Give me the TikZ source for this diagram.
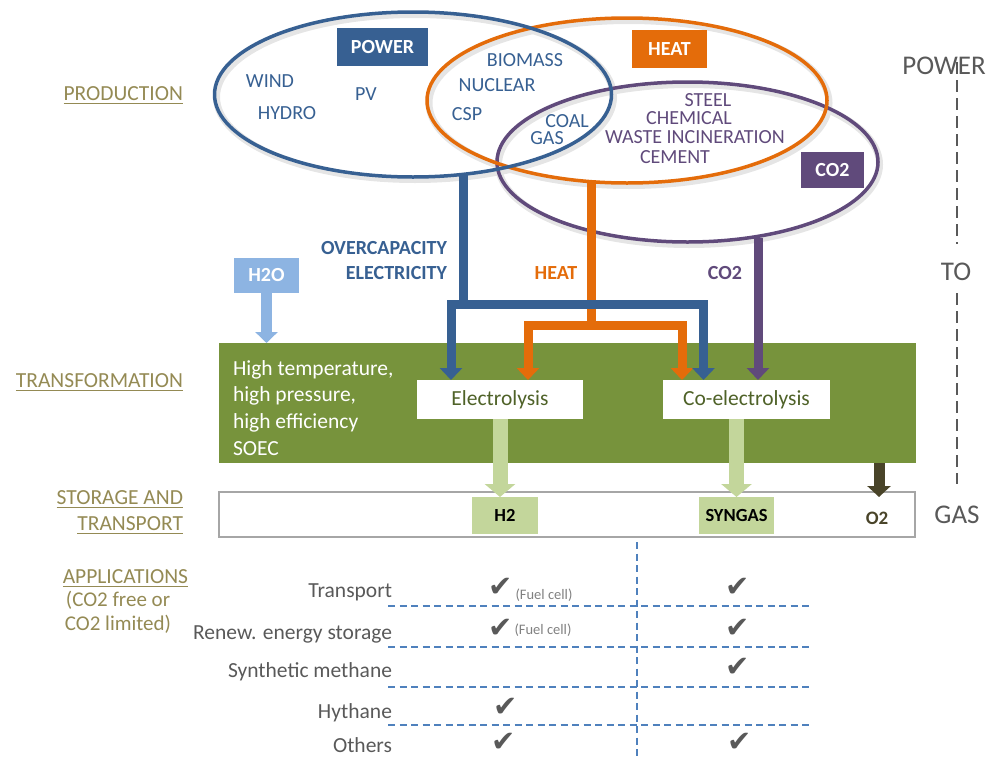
\documentclass[tikz,border=0pt]{standalone}
\usepackage{fontspec}
\setmainfont{Carlito}
\newfontfamily\symfont{DejaVu Sans}
\usetikzlibrary{arrows.meta,shapes.geometric,calc}
\definecolor{cblue}{HTML}{376092}
\definecolor{corange}{HTML}{E46C0A}
\definecolor{cpurple}{HTML}{604A7B}
\definecolor{cgreen}{HTML}{77933C}
\definecolor{clgreen}{HTML}{C3D69B}
\definecolor{cltblue}{HTML}{8DB4E2}
\definecolor{colive}{HTML}{948A54}
\definecolor{cdolive}{HTML}{494429}
\definecolor{cgray}{HTML}{595959}
\definecolor{cdgreen}{HTML}{4F6228}
\definecolor{cdash}{HTML}{4F81BD}
\tikzset{
  ell/.style={ellipse, line width=3.5pt, inner sep=0pt},
  shd/.style={ellipse, draw=black!10, line width=7pt, inner sep=0pt},
  tagbox/.style={text=white, font=\fontsize{20}{24}\selectfont\bfseries},
  etxt/.style={font=\fontsize{20}{24}\selectfont},
  ulbl/.style={text=colive, font=\fontsize{21.5}{26}\selectfont, anchor=base east},
  uline/.style={draw=colive, line width=1.3pt},
  gtxt/.style={text=white, font=\fontsize{21.5}{26}\selectfont, anchor=base west},
  procbox/.style={fill=white, text=cdgreen, font=\fontsize{21.5}{26}\selectfont},
  gasbox/.style={fill=clgreen, text=black, font=\fontsize{18.5}{22}\selectfont\bfseries},
  conlbl/.style={font=\fontsize{20}{25}\selectfont\bfseries},
  feed/.style={line width=9pt, -{Triangle[width=22pt,length=12pt]}},
  feedline/.style={line width=9pt},
  outarrow/.style={draw=clgreen, line width=15pt, -{Triangle[width=30pt,length=13pt]}},
  rlbl/.style={text=cgray, font=\fontsize{21.5}{26}\selectfont, anchor=base east},
  chk/.style={text=cgray, font=\symfont\fontsize{29}{29}\selectfont},
  fuel/.style={text=gray, font=\fontsize{14.5}{17}\selectfont},
  bdash/.style={draw=cdash, line width=1.6pt, dash pattern=on 7pt off 4.5pt},
  gdash/.style={draw=cgray, line width=1.5pt, dash pattern=on 12pt off 6pt},
  side/.style={text=cgray, font=\fontsize{27}{32}\selectfont}
}
\begin{document}
\begin{tikzpicture}[x=1pt,y=-1pt, every node/.style={inner sep=0pt,outer sep=0pt}]
\useasboundingbox (0,0) rectangle (992,758);

% soft shadows
\node[shd, minimum width=381, minimum height=160] at (689,164.5) {};
\node[shd, minimum width=400, minimum height=165] at (629,103) {};
\node[shd, minimum width=397, minimum height=165] at (415,97) {};

% ellipses
\node[ell, draw=cpurple, minimum width=381, minimum height=160] (co2E) at (687.5,162) {};
\node[ell, draw=corange, minimum width=400, minimum height=165] (heatE) at (627,100.5) {};
\node[ell, draw=cblue, minimum width=397, minimum height=165] (powE) at (413,94.5) {};

% tag boxes
\node[tagbox, fill=cblue, minimum width=91, minimum height=38] (powT) at (382.5,47) {POWER};
\node[tagbox, fill=corange, minimum width=75, minimum height=38] (heatT) at (669.5,49) {HEAT};
\node[tagbox, fill=cpurple, minimum width=63, minimum height=36] (co2T) at (832.5,170) {CO2};

% production items
\node[etxt, text=cblue] (wind) at (270,81) {WIND};
\node[etxt, text=cblue] (hydro) at (287,113) {HYDRO};
\node[etxt, text=cblue] (pv) at (366,94) {PV};
\node[etxt, text=cblue] (biom) at (525,60) {BIOMASS};
\node[etxt, text=cblue] (nucl) at (497,85) {NUCLEAR};
\node[etxt, text=cblue] (csp) at (467,114) {CSP};
\node[etxt, text=cblue] (coal) at (567,121.5) {COAL};
\node[etxt, text=cblue] (gas) at (547,138.5) {GAS};
\node[etxt, text=cpurple] (steel) at (708,100) {STEEL};
\node[etxt, text=cpurple] (chem) at (689,118.5) {CHEMICAL};
\node[etxt, text=cpurple] (waste) at (695,137.5) {WASTE INCINERATION};
\node[etxt, text=cpurple] (cement) at (675,157) {CEMENT};

% left labels
\node[ulbl] (prod) at (183,100) {PRODUCTION};
\draw[uline] ([yshift=-3.5pt]prod.base west) -- ([yshift=-3.5pt]prod.base east);
\node[ulbl] (transl) at (183,387) {TRANSFORMATION};
\draw[uline] ([yshift=-3.5pt]transl.base west) -- ([yshift=-3.5pt]transl.base east);
\node[ulbl] (stor1) at (183,504) {STORAGE AND};
\draw[uline] ([yshift=-3.5pt]stor1.base west) -- ([yshift=-3.5pt]stor1.base east);
\node[ulbl] (stor2) at (183,530) {TRANSPORT};
\draw[uline] ([yshift=-3.5pt]stor2.base west) -- ([yshift=-3.5pt]stor2.base east);
\node[ulbl] (appl) at (188,583) {APPLICATIONS};
\draw[uline] ([yshift=-3.5pt]appl.base west) -- ([yshift=-3.5pt]appl.base east);
\node[text=colive, font=\fontsize{21}{25}\selectfont, anchor=base] (appl2) at (118,606) {(CO2 free or};
\node[text=colive, font=\fontsize{21}{25}\selectfont, anchor=base] (appl3) at (118,630) {CO2 limited)};

% transformation block
\node[fill=cgreen, minimum width=697, minimum height=120, anchor=north west] (trans) at (219,343) {};
\node[gtxt] (g1) at (233,375) {High temperature,};
\node[gtxt] (g2) at (233,401) {high pressure,};
\node[gtxt] (g3) at (233,428) {high efficiency};
\node[gtxt] (g4) at (233,455) {SOEC};
\node[procbox, minimum width=166, minimum height=39] (elec) at (500,399.5) {Electrolysis};
\node[procbox, minimum width=167, minimum height=39] (coel) at (746.5,399.5) {Co-electrolysis};

% storage block
\node[draw=black!35, line width=1.5pt, minimum width=696, minimum height=45, anchor=north west] (stor) at (219,492) {};
\node[gasbox, minimum width=66, minimum height=37] (h2) at (505,515.5) {H2};
\node[gasbox, minimum width=75, minimum height=37] (syn) at (736.5,515.5) {SYNGAS};
\node[text=cdolive, font=\fontsize{19}{22}\selectfont\bfseries] (o2) at (877,518) {O2};

% H2O input
\node[fill=cltblue, text=white, font=\fontsize{20}{24}\selectfont\bfseries, minimum width=65, minimum height=35] (h2o) at (266.5,275.5) {H2O};
\draw[draw=cltblue, line width=11pt, -{Triangle[width=22pt,length=11pt]}] (h2o.south) -- (h2o.south |- trans.north);

% connector labels
\node[conlbl, text=cblue, align=right, anchor=east] (ocl) at (447,261) {OVERCAPACITY\\ELECTRICITY};
\node[conlbl, text=corange] (heatl) at (556,273) {HEAT};
\node[conlbl, text=cpurple] (co2l) at (725,273) {CO2};

% feed connectors
\coordinate (bs) at (463,174);
\coordinate (bj) at (463,304);
\coordinate (os) at (591,183);
\coordinate (oj) at (591,325);
\coordinate (ps) at (758,238);
\coordinate (ein) at ($(elec.north west)+(34,0)$);
\coordinate (eon) at ($(elec.north west)+(111,0)$);
\coordinate (cin) at ($(coel.north west)+(40.5,0)$);
\coordinate (con) at ($(coel.north west)+(19,0)$);
\coordinate (cpn) at ($(coel.north west)+(95,0)$);

\draw[feedline, draw=corange] (os) -- (oj);
\draw[feed, draw=corange] (oj) -| (eon);
\draw[feed, draw=corange] (oj) -| (con);
\draw[feedline, draw=cblue] (bs) -- (bj);
\draw[feed, draw=cblue] (bj) -| (ein);
\draw[feed, draw=cblue] (bj) -| (cin);
\draw[feed, draw=cpurple] (ps) -- (cpn);

% output arrows
\draw[outarrow] (elec.south) -- (elec.south |- h2.north);
\draw[outarrow] (syn.north |- coel.south) -- (syn.north);
\coordinate (o2a) at (879,463);
\coordinate (o2b) at (879,497);
\draw[draw=cdolive, line width=11pt, -{Triangle[width=23pt,length=11pt]}] (o2a) -- (o2b);

% right side
\node[side] (powR) at (944,66) {POWER};
\node[side] (toR) at (956,272) {TO};
\node[side] (gasR) at (957,515) {GAS};
\draw[gdash] (957,62) -- (957,244);
\draw[gdash] (957,293) -- (957,484);

% applications table
\node[rlbl] (r1) at (392,597) {Transport};
\node[rlbl] (r2) at (392,639) {Renew. energy storage};
\node[rlbl] (r3) at (392,677) {Synthetic methane};
\node[rlbl] (r4) at (392,718) {Hythane};
\node[rlbl] (r5) at (392,752) {Others};
\draw[bdash] (388,606) -- (813,606);
\draw[bdash] (388,647) -- (813,647);
\draw[bdash] (388,687) -- (813,687);
\draw[bdash] (388,725) -- (813,725);
\draw[bdash] (637,542) -- (637,758);

\node[chk] (c11) at (501,587) {✔};
\node[chk] (c12) at (738,587) {✔};
\node[chk] (c21) at (501,628) {✔};
\node[chk] (c22) at (738,628) {✔};
\node[chk] (c32) at (738,667) {✔};
\node[chk] (c41) at (506,707) {✔};
\node[chk] (c51) at (504,742) {✔};
\node[chk] (c52) at (740,742) {✔};
\node[fuel] (f1) at (544,595) {(Fuel cell)};
\node[fuel] (f2) at (543,630) {(Fuel cell)};
\end{tikzpicture}
\end{document}
